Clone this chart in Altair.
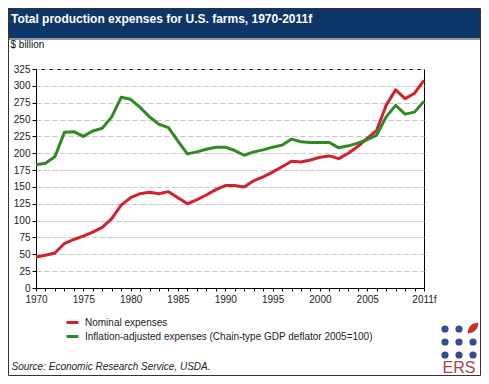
import altair as alt
import pandas as pd

# ---------------- data ----------------
years = list(range(1970, 2012))
nominal = [46, 48.5, 52, 66, 72, 77, 83, 90, 103, 123,
           134, 140, 142, 140, 143, 134, 125, 131, 138, 146,
           152, 152, 150, 159, 165, 172, 180, 188, 187, 190,
           194, 196, 192, 200, 210, 222, 234, 271, 294, 281,
           289, 308]
inflation_adjusted = [183, 185, 195, 231, 232, 225, 233, 237, 254, 283,
                      280, 268, 254, 243, 238, 218, 199, 202, 206, 209,
                      209, 204, 197, 202, 205, 209, 212, 221, 217, 216,
                      216, 216, 208, 211, 215, 220, 227, 254, 271, 258,
                      261, 277]
series_names = ["Nominal expenses",
                "Inflation-adjusted expenses (Chain-type GDP deflator 2005=100)"]
y_ticks = list(range(0, 326, 25))
x_label_years = [1970, 1975, 1980, 1985, 1990, 1995, 2000, 2005]
forecast_year = 2011
title_text = "Total production expenses for U.S. farms, 1970-2011f"
y_unit = "$ billion"
source_text = "Source: Economic Research Service, USDA."
logo_text = "ERS"

df = pd.DataFrame({
    "year": years + years,
    "value": nominal + inflation_adjusted,
    "series": [series_names[0]] * len(years) + [series_names[1]] * len(years),
})
one = pd.DataFrame({"k": [0]})

FONT = "Liberation Sans"
RED = "#d1222b"
GREEN = "#2f8a22"
NAVY = "#0e3669"
DOT = "#2f4f8f"

W, H = 388, 219
PL, PT, PR, PB = 28, 61, 57, 88
TW, TH = PL + W + PR, PT + H + PB

label_expr = ("indexof([" + ",".join(str(y) for y in x_label_years) + "], datum.value) >= 0 ? '' + datum.value : "
              "(datum.value == " + str(forecast_year) + " ? '" + str(forecast_year) + "f' : '')")

lines = alt.Chart(df).mark_line(strokeWidth=3, strokeJoin="round").encode(
    x=alt.X("year:Q",
            scale=alt.Scale(domain=[years[0], years[-1]], nice=False, zero=False),
            axis=alt.Axis(values=years, labelExpr=label_expr, labelOverlap=False,
                          labelFlush=False, grid=False, tickSize=3, labelPadding=3,
                          labelFontSize=10, labelColor="#222",
                          title=source_text, titleX=-25, titleY=78,
                          titleAlign="left", titleBaseline="middle",
                          titleFontStyle="italic", titleFontWeight="normal",
                          titleFontSize=10, titleColor="#222")),
    y=alt.Y("value:Q",
            scale=alt.Scale(domain=[0, 325], nice=False),
            axis=alt.Axis(values=y_ticks, grid=True, gridDash=[5, 3], gridColor="#c4c4c4",
                          tickSize=4, labelPadding=2, labelFontSize=10, labelColor="#222",
                          title=y_unit, titleAngle=0, titleX=-26, titleY=-25,
                          titleAlign="left", titleBaseline="middle",
                          titleFontWeight="normal", titleFontSize=10, titleColor="#111")),
    color=alt.Color("series:N",
                    scale=alt.Scale(domain=series_names, range=[RED, GREEN]),
                    legend=alt.Legend(orient="none", legendX=29, legendY=246, title=None,
                                      symbolType="stroke", symbolSize=144,
                                      symbolStrokeWidth=3, labelFontSize=10,
                                      labelColor="#222", labelOffset=5, rowPadding=0,
                                      padding=0, labelLimit=400)),
)

deco = alt.Chart(one)
title_bar = deco.mark_rect(fill=NAVY).encode(
    x=alt.value(-PL), x2=alt.value(W + PR - 1), y=alt.value(-PT), y2=alt.value(-31))
shadow = deco.mark_rect(fill="#8e98a4").encode(
    x=alt.value(-PL), x2=alt.value(W + PR - 1), y=alt.value(-31), y2=alt.value(-29))
title = deco.mark_text(text=title_text, font=FONT, fontSize=12, fontWeight="bold",
                       color="white", align="left", baseline="middle").encode(
    x=alt.value(-25), y=alt.value(-50))

dot_x = [409, 423, 437]
dot_y = [260, 273, 286]
dots = []
for j, yy in enumerate(dot_y):
    for i, xx in enumerate(dot_x):
        if i == 2 and j == 0:
            continue
        dots.append(deco.mark_circle(color=DOT, opacity=1, size=52).encode(
            x=alt.value(xx), y=alt.value(yy)))
leaf = deco.mark_point(shape="M -1 1 C -1 -0.3 -0.2 -1 1 -1 C 1 0.2 0.3 1 -1 1 Z",
                       filled=True, color="#c8302a", opacity=1, size=110).encode(
    x=alt.value(437), y=alt.value(259))
ers = deco.mark_text(text=logo_text, font=FONT, fontSize=16, color="#a3473f",
                     align="center", baseline="alphabetic").encode(
    x=alt.value(423), y=alt.value(304))
border = deco.mark_rect(fill=None, stroke="#333", strokeWidth=1).encode(
    x=alt.value(-PL + 0.5), x2=alt.value(W + PR - 0.5),
    y=alt.value(-PT + 0.5), y2=alt.value(H + PB - 0.5))

chart = alt.layer(title_bar, shadow, title, lines, *dots, leaf, ers, border).properties(
    width=W, height=H,
    padding={"left": PL, "top": PT, "right": PR, "bottom": PB},
    autosize=alt.AutoSizeParams(type="none"),
).configure(font=FONT, background="white").configure_view(
    stroke="black", strokeWidth=1
).configure_axis(domainColor="black", tickColor="black")

chart.save("out.html", embed_options={"renderer": "svg", "actions": False})
